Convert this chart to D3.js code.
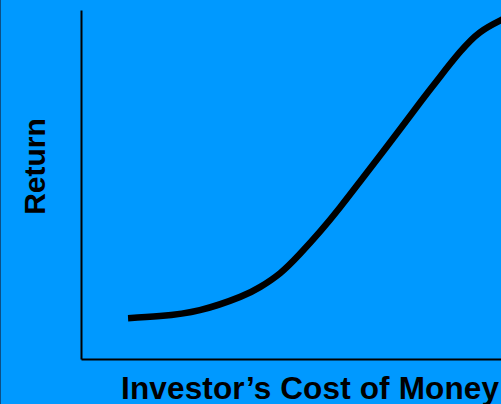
<!DOCTYPE html>
<html>
<head>
<meta charset="utf-8">
<script src="https://cdn.jsdelivr.net/npm/d3@7"></script>
<style>
    html, body { margin: 0; padding: 0; background: #0099ff; overflow: hidden; }
    svg { display: block; }
    .label { font-family: "Liberation Sans", Arial, sans-serif; font-weight: bold; fill: #000; }
</style>
</head>
<body>
<div id="chart"></div>
<script>
// cost of money (x) and return (y), both on a 0-100 scale
let costOfMoney = [11.2, 18.8, 28.3, 37.9, 42.6, 47.4, 52.1, 56.9, 61.7, 66.4, 71.2, 76.0, 80.7, 85.5, 90.2, 95.0, 100, 102.1];
let returns     = [11.7, 12.3, 14.0, 17.8, 20.6, 24.6, 30.1, 36.5, 43.5, 50.8, 58.3, 65.9, 73.4, 80.9, 87.9, 93.6, 97.1, 98.4];
let xTitle = "Investor\u2019s Cost of Money";
let yTitle = "Return";

let width = 501, height = 404;

let svg = d3.select("#chart")
    .append("svg")
    .attr("width", width)
    .attr("height", height);

svg.append("rect")
    .attr("width", width)
    .attr("height", height)
    .attr("fill", "#0099ff");

// thin dark edge on the left
svg.append("line")
    .attr("x1", 0.5).attr("x2", 0.5)
    .attr("y1", 0).attr("y2", height)
    .attr("stroke", "#0d4f86")
    .attr("stroke-width", 1);

let xScale = d3.scaleLinear().domain([0, 100]).range([81, 501]);
let yScale = d3.scaleLinear().domain([0, 100]).range([359, 10]);

let xAxis = svg.append("g")
    .attr("transform", "translate(0,359)")
    .call(d3.axisBottom(xScale).ticks(0).tickSizeOuter(0));

let yAxis = svg.append("g")
    .attr("transform", "translate(81,0)")
    .call(d3.axisLeft(yScale).ticks(0).tickSizeOuter(0));

[xAxis, yAxis].forEach(function(g){
    g.select(".domain")
        .attr("stroke", "#000")
        .attr("stroke-width", 2);
});

let points = costOfMoney.map(function(c, i){ return [c, returns[i]]; });

let line = d3.line()
    .x(function(d){ return xScale(d[0]); })
    .y(function(d){ return yScale(d[1]); })
    .curve(d3.curveNatural);

svg.append("path")
    .datum(points)
    .attr("d", line)
    .attr("fill", "none")
    .attr("stroke", "#000")
    .attr("stroke-width", 6.5)
    .attr("stroke-linecap", "butt");

svg.append("text")
    .attr("class", "label")
    .attr("x", 121)
    .attr("y", 398.5)
    .attr("textLength", 378)
    .attr("lengthAdjust", "spacing")
    .style("font-size", "31.5px")
    .text(xTitle);

svg.append("text")
    .attr("class", "label")
    .attr("transform", "translate(45,166.5) rotate(-90)")
    .style("text-anchor", "middle")
    .style("font-size", "30px")
    .text(yTitle);
</script>
</body>
</html>
